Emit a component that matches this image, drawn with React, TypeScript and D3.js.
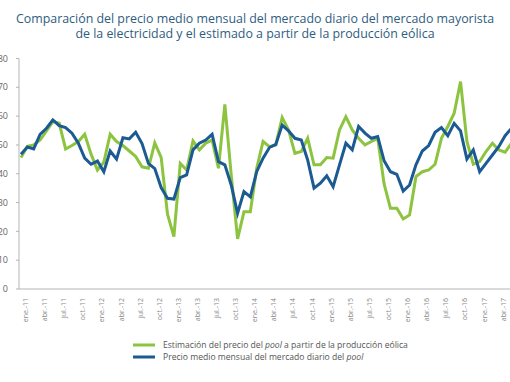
import React from "react";
import * as d3 from "d3";

const months = ["ene.", "feb.", "mar.", "abr.", "may.", "jun.", "jul.", "ago.", "sep.", "oct.", "nov.", "dic."];
const years = ["11", "12", "13", "14", "15", "16", "17"];
const categories: string[] = [];
for (const y of years) for (const m of months) categories.push(`${m}-${y}`);

const poolPrice = [
  46.8, 49.3, 48.6, 53.7, 55.8, 58.7, 56.7, 56.0, 54.1, 50.6, 45.4, 43.3,
  44.4, 40.7, 47.9, 45.1, 52.5, 52.1, 54.4, 50.5, 43.6, 41.8, 35.2, 31.5,
  31.2, 38.7, 39.6, 48.3, 50.6, 51.7, 53.7, 44.2, 43.1, 36.1, 26.3, 33.8,
  32.0, 40.7, 45.4, 49.1, 50.2, 56.9, 54.9, 52.3, 51.7, 44.8, 35.0, 36.7,
  39.3, 35.5, 43.1, 50.6, 48.3, 56.4, 54.1, 52.3, 52.9, 44.5, 40.7, 39.8,
  34.0, 36.1, 43.1, 47.9, 49.8, 54.4, 56.0, 53.2, 57.5, 54.9, 45.1, 48.3,
  40.7, 43.6, 46.5, 49.4, 53.2, 55.8,
];
const windEstimate = [
  45.6, 49.5, 50.0, 51.7, 54.9, 58.1, 57.5, 48.6, 49.8, 51.2, 53.7, 46.8,
  41.3, 44.0, 53.7, 51.2, 49.8, 47.9, 46.0, 42.4, 41.9, 50.7, 45.7, 26.0,
  18.2, 43.6, 41.3, 51.4, 48.3, 50.6, 51.7, 41.9, 64.1, 39.6, 17.4, 26.8,
  26.8, 41.9, 51.2, 49.4, 50.0, 59.5, 55.2, 47.1, 47.7, 52.3, 43.1, 43.1,
  45.6, 45.4, 55.2, 59.8, 55.2, 52.3, 50.0, 51.2, 52.3, 36.5, 28.0, 28.0,
  24.3, 25.7, 39.0, 40.7, 41.3, 43.3, 52.3, 56.4, 61.0, 72.0, 51.2, 43.3,
  44.2, 47.7, 50.6, 48.3, 47.5, 50.6,
];
const yTicks = [0, 10, 20, 30, 40, 50, 60, 70, 80];
const titleLines = [
  "Comparación del precio medio mensual del mercado diario del mercado mayorista",
  "de la electricidad y el estimado a partir de la producción eólica",
];

const W = 510;
const H = 382;
const GREEN = "#8cc43f";
const BLUE = "#1b5a92";

export default function App() {
  const x = d3.scaleLinear().domain([0, 77]).range([21, 511.5]);
  const y = d3.scaleLinear().domain([0, 80]).range([289, 58.5]);
  const line = d3
    .line<number>()
    .x((_, i) => x(i))
    .y((d) => y(d));
  const labelIdx = d3.range(0, poolPrice.length, 3);
  return (
    <svg
      width={W}
      height={H}
      style={{ position: "absolute", left: 0, top: 0, background: "#fff" }}
      fontFamily="'Open Sans', sans-serif"
    >
      <defs>
        <clipPath id="plot">
          <rect x={19} y={40} width={W - 19} height={260} />
        </clipPath>
      </defs>
      {titleLines.map((t, i) => (
        <text
          key={i}
          x={255}
          y={22.5 + i * 15.5}
          textAnchor="middle"
          fontSize={12.4}
          fill="#2f5d80"
        >
          {t}
        </text>
      ))}
      {/* y axis */}
      <line x1={19} x2={19} y1={y(80)} y2={y(0)} stroke="#b5b5b5" strokeWidth={1} />
      {yTicks.map((t) => (
        <g key={t}>
          <line x1={16} x2={19} y1={y(t)} y2={y(t)} stroke="#b5b5b5" />
          <text x={8} y={y(t)} dy="0.35em" textAnchor="end" fontSize={9} fill="#666">
            {t}
          </text>
        </g>
      ))}
      <line x1={19} x2={W} y1={y(0)} y2={y(0)} stroke="#b5b5b5" strokeWidth={1} />
      {labelIdx.map((i) => (
        <text
          key={i}
          transform={`translate(${x(i) + 4.5},298) rotate(-90)`}
          dy="0.35em"
          textAnchor="end"
          fontSize={7}
          fill="#888"
        >
          {categories[i]}
        </text>
      ))}
      <g clipPath="url(#plot)">
        <path d={line(windEstimate) ?? ""} fill="none" stroke={GREEN} strokeWidth={3} strokeLinejoin="miter" />
        <path d={line(poolPrice) ?? ""} fill="none" stroke={BLUE} strokeWidth={3} strokeLinejoin="miter" />
      </g>
      {/* legend */}
      <line x1={133} x2={155} y1={345} y2={345} stroke={GREEN} strokeWidth={3} />
      <text x={163} y={345} dy="0.35em" fontSize={8.6} fill="#555">
        Estimación del precio del <tspan fontStyle="italic">pool</tspan> a partir de la producción eólica
      </text>
      <line x1={133} x2={155} y1={357} y2={357} stroke={BLUE} strokeWidth={3} />
      <text x={163} y={357} dy="0.35em" fontSize={8.6} fill="#555">
        Precio medio mensual del mercado diario del <tspan fontStyle="italic">pool</tspan>
      </text>
    </svg>
  );
}
